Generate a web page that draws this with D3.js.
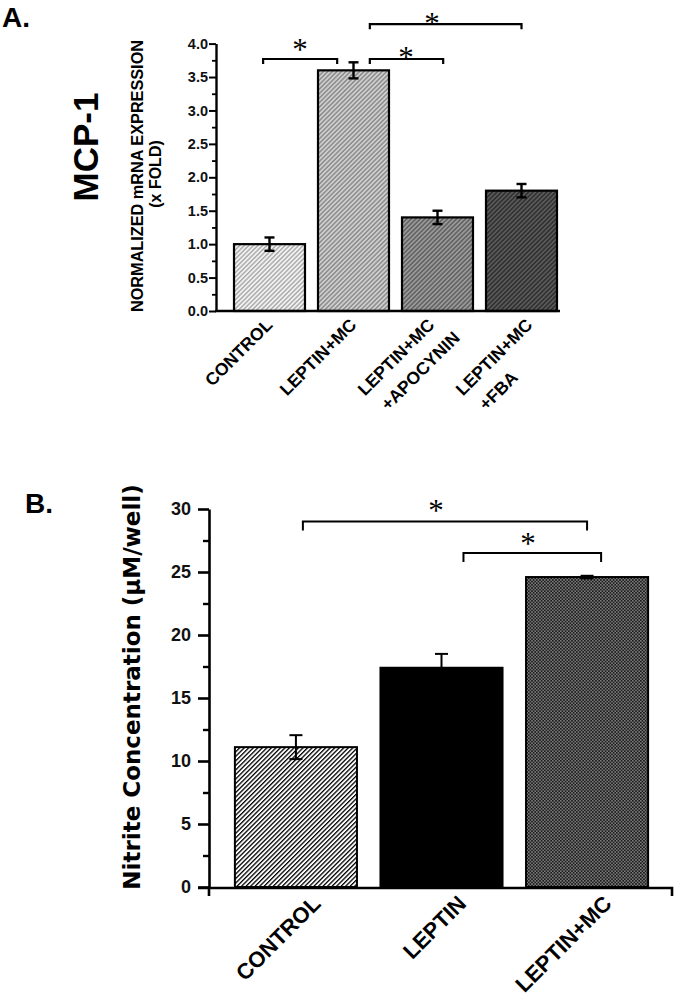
<!DOCTYPE html>
<html><head><meta charset="utf-8">
<script src="https://cdn.jsdelivr.net/npm/d3@7"></script>
<style>
html,body{margin:0;padding:0;background:#fff;}
svg{display:block;}
</style></head>
<body>
<svg id="chart" width="685" height="1002"></svg>
<script>
// ---------- DATA ----------
// Panel A: MCP-1 normalized mRNA expression (x fold)
const catsA = ["CONTROL", "LEPTIN+MC", "LEPTIN+MC +APOCYNIN", "LEPTIN+MC +FBA"];
const labelLinesA = [["CONTROL"], ["LEPTIN+MC"], ["LEPTIN+MC", "+APOCYNIN"], ["LEPTIN+MC", "+FBA"]];
const valuesA = [1.0, 3.6, 1.4, 1.8];
const errorsA = [0.1, 0.12, 0.1, 0.1];
const ticksA = [0, 0.5, 1.0, 1.5, 2.0, 2.5, 3.0, 3.5, 4.0];
const minorTicksA = [0.25, 0.75, 1.25, 1.75, 2.25, 2.75, 3.25, 3.75];
// significance brackets: from category, to category, level (data units)
const bracketsA = [
  {from: 0, to: 1, level: 3.77},
  {from: 1, to: 2, level: 3.77},
  {from: 1, to: 3, level: 4.29}
];

// Panel B: Nitrite concentration (µM/well)
const catsB = ["CONTROL", "LEPTIN", "LEPTIN+MC"];
const valuesB = [11.1, 17.4, 24.6];
const errorsB = [0.95, 1.1, 0.1];
const ticksB = [0, 5, 10, 15, 20, 25, 30];
const minorTicksB = [2.5, 7.5, 12.5, 17.5, 22.5, 27.5];
const bracketsB = [
  {from: 0, to: 2, level: 29.0},
  {from: 1, to: 2, level: 26.5}
];

// ---------- LAYOUT / STYLE ----------
const FONT = "'Liberation Sans', Arial, Helvetica, sans-serif";
const SERIF = "'Liberation Serif', 'Times New Roman', serif";
const svg = d3.select("#chart");
const defs = svg.append("defs");

function hatch(id, bg, fg, period, sw) {
  const p = defs.append("pattern").attr("id", id).attr("patternUnits", "userSpaceOnUse")
    .attr("width", period).attr("height", period).attr("patternTransform", "rotate(45)");
  p.append("rect").attr("width", period).attr("height", period).attr("fill", bg);
  p.append("rect").attr("x", 0).attr("y", 0).attr("width", sw).attr("height", period).attr("fill", fg);
}
hatch("hA0", "#f2f2f2", "#a8a8a8", 3.2, 1.4);
hatch("hA1", "#cfcfcf", "#8c8c8c", 3.2, 1.5);
hatch("hA2", "#9a9a9a", "#606060", 3.2, 1.5);
hatch("hA3", "#5a5a5a", "#2e2e2e", 3.2, 1.5);
hatch("hB0", "#ffffff", "#000000", 3.2, 1.3);
(function () {
  const p = defs.append("pattern").attr("id", "chkB").attr("patternUnits", "userSpaceOnUse")
    .attr("width", 3.2).attr("height", 3.2);
  p.append("rect").attr("width", 3.2).attr("height", 3.2).attr("fill", "#1a1a1a");
  p.append("rect").attr("width", 1.6).attr("height", 1.6).attr("fill", "#7a7a7a");
  p.append("rect").attr("x", 1.6).attr("y", 1.6).attr("width", 1.6).attr("height", 1.6).attr("fill", "#7a7a7a");
})();
const fillsA = ["url(#hA0)", "url(#hA1)", "url(#hA2)", "url(#hA3)"];
const fillsB = ["url(#hB0)", "#000", "url(#chkB)"];

// ================= PANEL A =================
const axisXA = 216;
const yA = d3.scaleLinear().domain([0, 4]).range([311, 43.6]);
const xA = d3.scaleBand().domain(catsA).range([227.5, 563.5]).paddingInner(0.155).paddingOuter(0.0775);
const gA = svg.append("g");

gA.append("text").attr("x", 2).attr("y", 27).attr("font-family", FONT).attr("font-weight", "bold")
  .attr("font-size", 28).attr("fill", "#000").text("A.");

gA.append("text").attr("transform", "translate(98,147) rotate(-90)").attr("text-anchor", "middle")
  .attr("font-family", FONT).attr("font-weight", "bold").attr("font-size", 35).attr("fill", "#000").text("MCP-1");
gA.append("text").attr("transform", "translate(143,176) rotate(-90)").attr("text-anchor", "middle")
  .attr("font-family", FONT).attr("font-weight", "bold").attr("font-size", 16)
  .attr("textLength", 272).attr("lengthAdjust", "spacingAndGlyphs").attr("fill", "#000")
  .text("NORMALIZED mRNA EXPRESSION");
gA.append("text").attr("transform", "translate(161,174) rotate(-90)").attr("text-anchor", "middle")
  .attr("font-family", FONT).attr("font-weight", "bold").attr("font-size", 16).attr("fill", "#000").text("(x FOLD)");

// bars
gA.selectAll("rect.bar").data(valuesA).join("rect").attr("class", "bar")
  .attr("x", (d, i) => xA(catsA[i])).attr("width", xA.bandwidth())
  .attr("y", d => yA(d)).attr("height", d => yA(0) - yA(d))
  .attr("fill", (d, i) => fillsA[i]).attr("stroke", "#000").attr("stroke-width", 2.2);

// error bars
const ebA = gA.selectAll("g.eb").data(valuesA).join("g").attr("class", "eb")
  .attr("transform", (d, i) => `translate(${xA(catsA[i]) + xA.bandwidth() / 2},0)`);
ebA.append("line").attr("y1", (d, i) => yA(d - errorsA[i])).attr("y2", (d, i) => yA(d + errorsA[i]))
  .attr("stroke", "#000").attr("stroke-width", 2.4);
ebA.append("line").attr("x1", -5).attr("x2", 5).attr("y1", (d, i) => yA(d + errorsA[i])).attr("y2", (d, i) => yA(d + errorsA[i]))
  .attr("stroke", "#000").attr("stroke-width", 2.4);
ebA.append("line").attr("x1", -5).attr("x2", 5).attr("y1", (d, i) => yA(d - errorsA[i])).attr("y2", (d, i) => yA(d - errorsA[i]))
  .attr("stroke", "#000").attr("stroke-width", 2.4);

// y axis
const yAxA = gA.append("g").attr("transform", `translate(${axisXA},0)`)
  .call(d3.axisLeft(yA).tickValues(ticksA).tickFormat(d3.format(".1f")).tickSize(7).tickSizeOuter(0).tickPadding(1));
yAxA.select(".domain").attr("stroke-width", 2.4);
yAxA.selectAll(".tick line").attr("stroke-width", 2);
yAxA.selectAll(".tick text").attr("font-family", FONT).attr("font-weight", "bold").attr("font-size", 14.5).attr("fill", "#111");
const yAxAm = gA.append("g").attr("transform", `translate(${axisXA},0)`)
  .call(d3.axisLeft(yA).tickValues(minorTicksA).tickFormat("").tickSize(4).tickSizeOuter(0));
yAxAm.select(".domain").remove();
yAxAm.selectAll(".tick line").attr("stroke-width", 1.8);

// x axis line
gA.append("line").attr("x1", axisXA - 1).attr("x2", 560).attr("y1", yA(0)).attr("y2", yA(0))
  .attr("stroke", "#000").attr("stroke-width", 2.4);

// x labels (rotated)
const labOffA = [[4, 15], [4, 15], [-2, 15], [12, 15]];
labelLinesA.forEach((lines, i) => {
  const cx = xA(catsA[i]) + xA.bandwidth() / 2;
  const g = gA.append("g").attr("transform", `translate(${cx + labOffA[i][0]},${yA(0) + labOffA[i][1]}) rotate(-45)`);
  const t1 = g.append("text").attr("text-anchor", "end").attr("font-family", FONT).attr("font-weight", "bold")
    .attr("font-size", 17.5).attr("fill", "#000").text(lines[0]);
  if (lines.length > 1) {
    const L = t1.node().getComputedTextLength();
    g.append("text").attr("text-anchor", "start").attr("x", -L + 6).attr("y", 27)
      .attr("font-family", FONT).attr("font-weight", "bold").attr("font-size", 17.5).attr("fill", "#000").text(lines[1]);
  }
});

// brackets
const brOffA = [[-0.09, -0.23], [0.23, 0.08], [0.23, 0.0]];
bracketsA.forEach((b, i) => {
  const x1 = xA(catsA[b.from]) + xA.bandwidth() * (0.5 + brOffA[i][0]);
  const x2 = xA(catsA[b.to]) + xA.bandwidth() * (0.5 + brOffA[i][1]);
  const y = yA(b.level);
  gA.append("path").attr("d", `M${x1},${y + 5}V${y}H${x2}V${y + 5}`)
    .attr("fill", "none").attr("stroke", "#000").attr("stroke-width", 2.2);
});
const starA = [[300, 46], [406, 54], [432, 20]];
starA.forEach(s => gA.append("text").attr("x", s[0]).attr("y", s[1] + 14).attr("text-anchor", "middle")
  .attr("font-family", SERIF).attr("font-size", 31).attr("fill", "#000").text("*"));

// ================= PANEL B =================
const axisXB = 209;
const yB = d3.scaleLinear().domain([0, 30]).range([887, 509]);
const xB = d3.scaleBand().domain(catsB).range([223.25, 659.75]).paddingInner(0.1615).paddingOuter(0.08);
const gB = svg.append("g");

gB.append("text").attr("x", 25).attr("y", 513).attr("font-family", FONT).attr("font-weight", "bold")
  .attr("font-size", 28).attr("fill", "#000").text("B.");

gB.append("text").attr("transform", "translate(140,687) rotate(-90)").attr("text-anchor", "middle")
  .attr("font-family", "'DejaVu Sans', Verdana, sans-serif").attr("font-weight", "bold").attr("font-size", 23)
  .attr("fill", "#000").text("Nitrite Concentration (µM/well)");

gB.selectAll("rect.bar").data(valuesB).join("rect").attr("class", "bar")
  .attr("x", (d, i) => xB(catsB[i])).attr("width", xB.bandwidth())
  .attr("y", d => yB(d)).attr("height", d => yB(0) - yB(d))
  .attr("fill", (d, i) => fillsB[i]).attr("stroke", "#000").attr("stroke-width", 2);

const ebB = gB.selectAll("g.eb").data(valuesB).join("g").attr("class", "eb")
  .attr("transform", (d, i) => `translate(${xB(catsB[i]) + xB.bandwidth() / 2},0)`);
ebB.append("line").attr("y1", (d, i) => yB(d - errorsB[i])).attr("y2", (d, i) => yB(d + errorsB[i]))
  .attr("stroke", "#000").attr("stroke-width", 2);
ebB.append("line").attr("x1", -6.5).attr("x2", 6.5).attr("y1", (d, i) => yB(d + errorsB[i])).attr("y2", (d, i) => yB(d + errorsB[i]))
  .attr("stroke", "#000").attr("stroke-width", 2);
ebB.append("line").attr("x1", -6.5).attr("x2", 6.5).attr("y1", (d, i) => yB(d - errorsB[i])).attr("y2", (d, i) => yB(d - errorsB[i]))
  .attr("stroke", "#000").attr("stroke-width", 2);

const yAxB = gB.append("g").attr("transform", `translate(${axisXB},0)`)
  .call(d3.axisLeft(yB).tickValues(ticksB).tickFormat(d3.format("d")).tickSize(11).tickSizeOuter(0).tickPadding(7));
yAxB.select(".domain").attr("stroke-width", 2.6);
yAxB.selectAll(".tick line").attr("stroke-width", 2.6);
yAxB.selectAll(".tick text").attr("font-family", FONT).attr("font-weight", "bold").attr("font-size", 18).attr("fill", "#111");
const yAxBm = gB.append("g").attr("transform", `translate(${axisXB},0)`)
  .call(d3.axisLeft(yB).tickValues(minorTicksB).tickFormat("").tickSize(6).tickSizeOuter(0));
yAxBm.select(".domain").remove();
yAxBm.selectAll(".tick line").attr("stroke-width", 2.4);

// x axis with end ticks
const xEndB = 672;
gB.append("path").attr("d", `M${axisXB - 11},${yB(0) + 1}H${xEndB}V${yB(0) + 9}M${axisXB},${yB(0)}V${yB(0) + 9}`)
  .attr("fill", "none").attr("stroke", "#000").attr("stroke-width", 2.6);

catsB.forEach((c, i) => {
  const cx = xB(c) + xB.bandwidth() / 2;
  gB.append("text").attr("transform", `translate(${cx + 26},${yB(0) + 18}) rotate(-45)`)
    .attr("text-anchor", "end").attr("font-family", FONT).attr("font-weight", "bold").attr("font-size", 22)
    .attr("fill", "#000").text(c);
});

const brOffB = [[0.057, 0.0], [0.18, 0.115]];
bracketsB.forEach((b, i) => {
  const x1 = xB(catsB[b.from]) + xB.bandwidth() * (0.5 + brOffB[i][0]);
  const x2 = xB(catsB[b.to]) + xB.bandwidth() * (0.5 + brOffB[i][1]);
  const y = yB(b.level);
  gB.append("path").attr("d", `M${x1},${y + 9}V${y}H${x2}V${y + 9}`)
    .attr("fill", "none").attr("stroke", "#000").attr("stroke-width", 2);
});
const starB = [[436, 507], [528, 540]];
starB.forEach(s => gB.append("text").attr("x", s[0]).attr("y", s[1] + 14).attr("text-anchor", "middle")
  .attr("font-family", SERIF).attr("font-size", 31).attr("fill", "#000").text("*"));
</script>
</body></html>
